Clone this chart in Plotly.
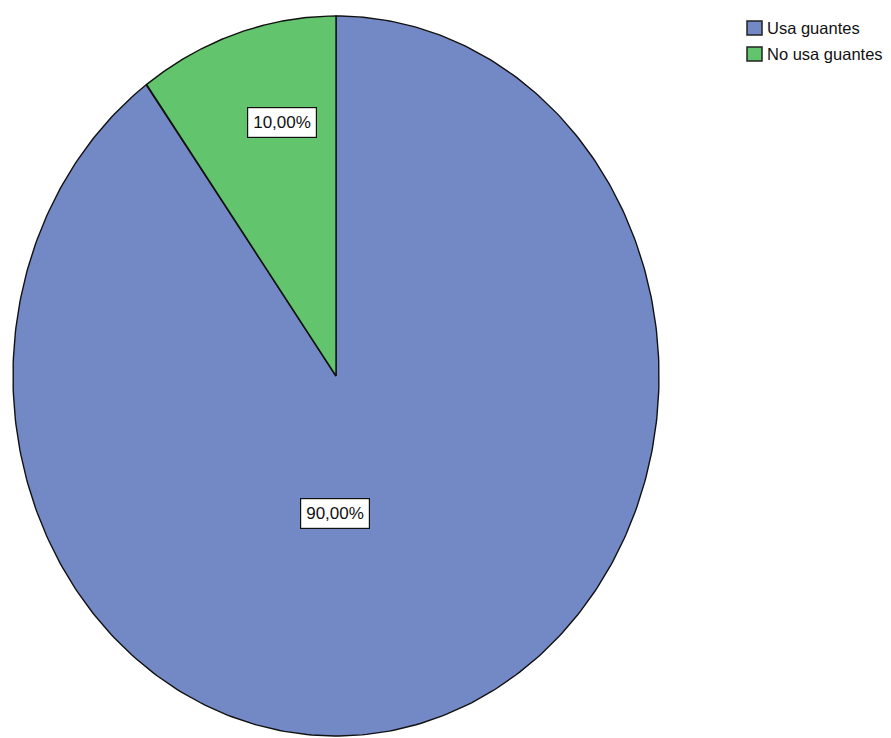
import numpy as np
import plotly.graph_objects as go

# Survey result: glove use
categories = ["Usa guantes", "No usa guantes"]
percentages = [90.0, 10.0]
colors = ["#7389c6", "#62c46c"]

# Pie geometry (axis units): unit radius, stretched by the axis scaling into an oval
cx, cy = 0.0, 0.0

fig = go.Figure()

total = sum(percentages)
start = 0.0  # degrees clockwise from 12 o'clock
for name, val, col in zip(categories, percentages, colors):
    sweep = 360.0 * val / total
    th = np.radians(np.linspace(start, start + sweep, 400))
    xs = np.concatenate([[cx], cx + np.sin(th), [cx]])
    ys = np.concatenate([[cy], cy + np.cos(th), [cy]])
    fig.add_trace(go.Scatter(
        x=xs, y=ys, mode="lines", fill="toself", fillcolor=col,
        line=dict(color="#111111", width=1.4), name=name,
        showlegend=False, hoverinfo="name",
    ))
    start += sweep

# Percentage labels in boxes
label_pos = {"Usa guantes": (-0.002, -0.381), "No usa guantes": (-0.167, 0.703)}
for name, val in zip(categories, percentages):
    lx, ly = label_pos[name]
    fig.add_annotation(
        x=lx, y=ly, xref="x", yref="y", showarrow=False,
        text=f"{val:.2f}".replace(".", ",") + "%",
        font=dict(family="Liberation Sans, Arial", size=17, color="#111111"),
        bgcolor="white", bordercolor="#111111", borderwidth=1.2, borderpad=5,
    )

# Legend (squares + names) at upper right
W, H = 891, 738
for i, (name, col) in enumerate(zip(categories, colors)):
    top = 21 + 26 * i
    fig.add_shape(
        type="rect", xref="paper", yref="paper",
        x0=747 / W, x1=762 / W, y0=1 - (top + 14) / H, y1=1 - top / H,
        fillcolor=col, line=dict(color="#222222", width=1.5),
    )
    fig.add_annotation(
        x=765 / W, y=1 - (top + 7) / H, xref="paper", yref="paper",
        xanchor="left", yanchor="middle", showarrow=False, text=name,
        font=dict(family="Liberation Sans, Arial", size=16.5, color="#111111"),
    )

# Axis scaling: centre at (336, 376) px, radii 323 px horizontally, 360 px vertically
px_cx, px_cy, rx, ry = 336, 376, 323, 360
fig.update_xaxes(range=[-px_cx / rx, (W - px_cx) / rx], visible=False, fixedrange=True)
fig.update_yaxes(range=[(px_cy - H) / ry, px_cy / ry], visible=False, fixedrange=True)

fig.update_layout(
    width=W, height=H,
    margin=dict(l=0, r=0, t=0, b=0),
    paper_bgcolor="white", plot_bgcolor="white",
    showlegend=False,
)

fig.write_html("out.html")
